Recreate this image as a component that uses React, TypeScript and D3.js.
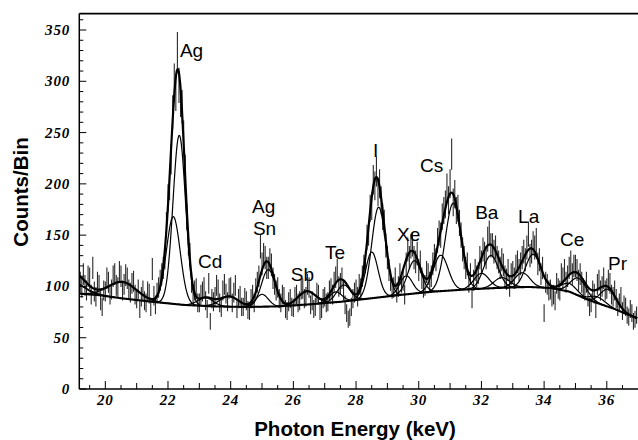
import React from "react";
import * as d3 from "d3";

// ---------- data ----------
const binStart = 19.2; // keV, first bin centre
const binWidth = 0.05; // keV
const counts = [
  // 19.20 - 19.95
  104, 99, 112, 101, 96, 110, 108, 92, 118, 95, 90, 104, 101, 86, 80, 96,
  // 20.00 - 20.95
  95, 108, 104, 92, 97, 110, 112, 101, 99, 114, 110, 96, 102, 111, 108, 97, 94, 103, 105, 92,
  // 21
  88, 97, 78, 90, 96, 86, 84, 95, 93, 80, 117, 91, 82, 94, 99, 106, 112, 118, 128, 160,
  // 22
  186, 198, 224, 270, 300, 288, 330, 296, 282, 275, 246, 214, 168, 142, 131, 104, 92, 96, 98, 84,
  // 23
  84, 92, 95, 99, 86, 78, 103, 66, 88, 85, 90, 101, 97, 84, 79, 96, 102, 93, 85, 98,
  // 24
  99, 84, 94, 101, 78, 88, 91, 80, 80, 89, 86, 77, 76, 88, 92, 84, 98, 104, 110, 139,
  // 25
  122, 131, 128, 118, 118, 126, 121, 108, 102, 96, 99, 88, 84, 92, 90, 78, 76, 85, 88, 80,
  // 26
  79, 90, 92, 84, 86, 97, 98, 88, 90, 102, 99, 82, 86, 78, 80, 94, 92, 76, 78, 88,
  // 27
  90, 84, 85, 96, 98, 92, 104, 109, 116, 100, 103, 108, 96, 82, 74, 68, 70, 80, 88, 94,
  // 28
  97, 90, 102, 98, 110, 120, 124, 148, 152, 176, 178, 204, 198, 212, 192, 200, 184, 168, 162, 140,
  // 29
  128, 116, 106, 98, 99, 108, 94, 100, 112, 104, 106, 92, 122, 136, 128, 139, 141, 128, 124, 132,
  // 30
  116, 124, 108, 99, 101, 114, 112, 104, 110, 122, 130, 126, 145, 152, 150, 168, 174, 180, 196, 184,
  // 31
  200, 229, 182, 190, 174, 176, 162, 150, 136, 128, 118, 122, 104, 112, 88, 106, 116, 110, 113, 128,
  // 32
  124, 136, 132, 128, 146, 152, 140, 140, 134, 138, 128, 124, 118, 126, 121, 110, 107, 116, 100, 112,
  // 33
  114, 108, 120, 124, 116, 122, 128, 134, 126, 138, 151, 130, 134, 142, 138, 145, 122, 126, 112, 118,
  // 34
  74, 104, 102, 96, 97, 90, 92, 86, 103, 98, 96, 112, 108, 116, 104, 110, 118, 124, 112, 120,
  // 35
  120, 116, 106, 112, 104, 98, 96, 104, 90, 80, 84, 96, 93, 78, 102, 106, 96, 100, 108, 96,
  // 36
  98, 106, 103, 92, 90, 96, 88, 80, 84, 90, 76, 82, 80, 72, 70, 78, 74, 66, 68, 72,
];

// smooth continuum (background) under the peaks
const bgEnergy = [19.17, 19.8, 20.5, 21.5, 22.5, 23.5, 24.5, 25.5, 26.5, 27.5, 28.5, 29.5, 30.5, 31.5, 32.5, 33.5, 34.2, 34.8, 35.4, 36.2, 36.97];
const bgCounts = [93, 91.5, 88.5, 85, 82, 80.5, 80, 80.5, 82.5, 85, 88.5, 92, 95, 97, 98.5, 99.5, 98.5, 95, 87, 78.5, 69];

// fitted Gaussian line components
const peakCenters = [19.05, 19.1, 20.55, 22.17, 22.36, 23.2, 23.95, 25.0, 25.2, 26.43, 27.35, 27.6, 28.5, 28.72, 29.6, 29.86, 30.7, 31.1, 32.0, 32.3, 32.65, 33.3, 33.65, 34.8, 35.1, 35.7, 36.05];
const peakAmps = [10, 8, 16, 85, 165, 8, 10, 12, 36, 13, 10, 16, 45, 88, 18, 32, 35, 85, 15, 32, 10, 14, 32, 8, 17, 6, 17];
const peakSigmas = [0.3, 0.35, 0.45, 0.22, 0.2, 0.25, 0.3, 0.2, 0.22, 0.28, 0.2, 0.22, 0.2, 0.22, 0.2, 0.22, 0.24, 0.25, 0.24, 0.24, 0.25, 0.24, 0.24, 0.25, 0.25, 0.25, 0.25];

// element labels (text, energy, counts at baseline)
const labelTexts = ["Ag", "Cd", "Ag", "Sn", "Sb", "Te", "I", "Xe", "Cs", "Ba", "La", "Ce", "Pr"];
const labelEnergy = [22.38, 22.96, 24.68, 24.71, 25.92, 27.01, 28.54, 29.31, 30.04, 31.8, 33.17, 34.51, 36.04];
const labelCounts = [323.7, 118, 171.6, 150.1, 105.3, 126.7, 226.2, 144.3, 211.6, 165.3, 161.8, 139.4, 116.5];

const yTickLabels = [0, 50, 100, 150, 200, 250, 300, 350];
const xTickLabels = [20, 22, 24, 26, 28, 30, 32, 34, 36];

export default function App() {
  const W = 638;
  const H = 440;
  const x = d3.scaleLinear().domain([19.17, 36.97]).range([79.3, 637.2]);
  const y = d3.scaleLinear().domain([0, 366]).range([389, 13.6]);
  const bg = d3.scaleLinear().domain(bgEnergy).range(bgCounts).clamp(true);

  const peaks = peakCenters.map((c, i) => ({ c, a: peakAmps[i], s: peakSigmas[i] }));
  const g = (p: { c: number; a: number; s: number }, e: number) =>
    p.a * Math.exp(-((e - p.c) ** 2) / (2 * p.s * p.s));

  const samples = d3.range(19.17, 36.98, 0.02);
  const line = d3
    .line<[number, number]>()
    .x((d) => x(d[0]))
    .y((d) => y(d[1]))
    .curve(d3.curveMonotoneX);

  const bgPath = line(samples.map((e) => [e, bg(e)] as [number, number])) || "";
  const totalPath =
    line(samples.map((e) => [e, bg(e) + d3.sum(peaks, (p) => g(p, e))] as [number, number])) || "";
  const compPaths = peaks.map(
    (p) =>
      line(
        samples
          .filter((e) => Math.abs(e - p.c) < 3.6 * p.s)
          .map((e) => [e, bg(e) + g(p, e)] as [number, number])
      ) || ""
  );

  const x0 = x.range()[0];
  const xr = 638;
  const yb = y.range()[0];
  const yt = y.range()[1];

  const yMinor = d3.range(0, 361, 10);
  const xMinor = d3.range(19.5, 36.6, 0.5);

  const tickFont = {
    fontFamily: "'Liberation Serif', 'DejaVu Serif', serif",
    fontWeight: 700,
    fontStyle: "italic",
    fontSize: 15,
  } as const;
  const sans = "'Liberation Sans', Arial, sans-serif";

  return (
    <svg width={W} height={H} style={{ position: "absolute", left: 0, top: 0, background: "#fff" }}>
      <defs>
        <clipPath id="plot">
          <rect x={x0} y={yt} width={xr - x0} height={yb - yt} />
        </clipPath>
      </defs>

      {/* data error bars */}
      <g clipPath="url(#plot)" stroke="#2a2a2a" strokeWidth={1.1}>
        {counts.map((c, i) => {
          const e = binStart + binWidth * i;
          const err = Math.sqrt(c);
          return <line key={i} x1={x(e)} x2={x(e)} y1={y(c - err)} y2={y(c + err)} />;
        })}
      </g>

      {/* fit curves */}
      <g clipPath="url(#plot)" fill="none" stroke="#000">
        {compPaths.map((d, i) => (
          <path key={i} d={d} strokeWidth={1.2} />
        ))}
        <path d={bgPath} strokeWidth={2.1} />
        <path d={totalPath} strokeWidth={2.2} />
      </g>

      {/* frame */}
      <g stroke="#000" fill="none">
        <line x1={x0} x2={x0} y1={yt} y2={yb} strokeWidth={1.5} />
        <line x1={x0} x2={xr} y1={yb} y2={yb} strokeWidth={1.5} />
        <line x1={x0} x2={xr} y1={yt} y2={yt} strokeWidth={1.8} />
      </g>

      {/* y ticks */}
      <g stroke="#000" strokeWidth={1}>
        {yMinor.map((v) => (
          <line key={v} x1={x0} x2={x0 + (v % 50 === 0 ? 7 : 4)} y1={y(v)} y2={y(v)} />
        ))}
      </g>
      {yTickLabels.map((v) => (
        <text key={v} x={70} y={y(v) + 5} textAnchor="end" style={tickFont} letterSpacing={0.8}>
          {v}
        </text>
      ))}

      {/* x ticks */}
      <g stroke="#000" strokeWidth={1}>
        {xMinor.map((v) => {
          const isInt = Math.abs(v - Math.round(v)) < 1e-6;
          const even = isInt && Math.round(v) % 2 === 0;
          const len = even ? 8 : isInt ? 6 : 4;
          return <line key={v} x1={x(v)} x2={x(v)} y1={yb} y2={yb - len} />;
        })}
      </g>
      {xTickLabels.map((v) => (
        <text key={v} x={x(v)} y={405} textAnchor="middle" style={tickFont} letterSpacing={0.8}>
          {v}
        </text>
      ))}

      {/* axis titles */}
      <text x={355} y={436} textAnchor="middle" fontFamily={sans} fontWeight={700} fontSize={20.5}>
        Photon Energy (keV)
      </text>
      <text
        transform={`translate(28,192) rotate(-90)`}
        textAnchor="middle"
        fontFamily={sans}
        fontWeight={700}
        fontSize={20.5}
      >
        Counts/Bin
      </text>

      {/* element labels */}
      {labelTexts.map((t, i) => (
        <text key={i} x={x(labelEnergy[i])} y={y(labelCounts[i])} fontFamily={sans} fontSize={19}>
          {t}
        </text>
      ))}
    </svg>
  );
}
